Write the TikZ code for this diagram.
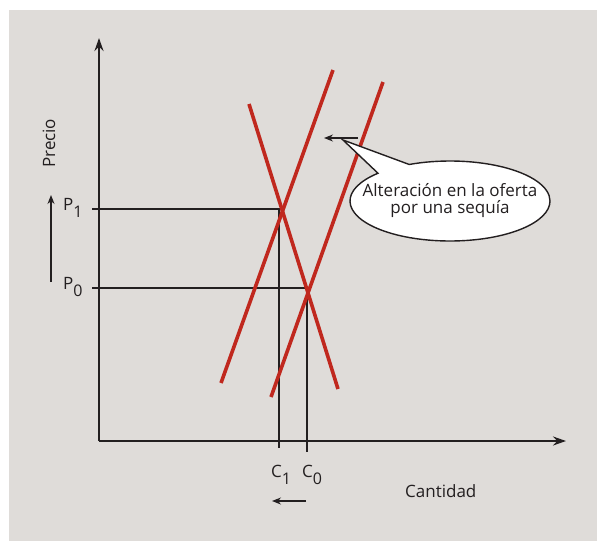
\documentclass[tikz,border=0pt]{standalone}
\usepackage{fontspec}
\setmainfont{Open Sans}
\usetikzlibrary{arrows.meta,shapes.callouts}
\definecolor{bgcol}{HTML}{DFDCD9}
\definecolor{curvered}{HTML}{C0281E}
\definecolor{axcol}{HTML}{231F20}
\tikzset{
  axis/.style={draw=axcol, line width=2.4pt, -{Stealth[length=13pt,width=9pt]}},
  guide/.style={draw=axcol, line width=2pt},
  curve/.style={draw=curvered, line width=3.6pt},
  shiftarrow/.style={draw=axcol, line width=1.3pt, -{Stealth[length=9pt,width=7pt]}},
  lbl/.style={font=\fontsize{17}{20}\selectfont, text=axcol, inner sep=0pt},
}
\newcommand{\sublbl}[2]{#1\raisebox{-7.5pt}{\fontsize{16}{18}\selectfont #2}}
\begin{document}
\begin{tikzpicture}[x=1pt,y=-1pt]
\useasboundingbox (0,0) rectangle (597,541);
\fill[bgcol] (9,10) rectangle (597,541);
% coordinates
\coordinate (O) at (99,441);
\coordinate (ytop) at (99,38);
\coordinate (xend) at (566,441);
\coordinate (p1l) at (92,209);
\coordinate (p1r) at (279,209);
\coordinate (c1b) at (279,448);
\coordinate (p0l) at (92,288);
\coordinate (p0r) at (307,288);
\coordinate (c0b) at (307,452);
\coordinate (dA) at (249,104);
\coordinate (dB) at (338,389);
\coordinate (s1A) at (221,383);
\coordinate (s1B) at (333,70);
\coordinate (s0A) at (271,397);
\coordinate (s0B) at (383,82);
\coordinate (pa1) at (51,282);
\coordinate (pa2) at (51,195);
\coordinate (ca1) at (306,501);
\coordinate (ca2) at (272,501);
\coordinate (sa1) at (358,138);
\coordinate (sa2) at (324,138);
% guides
\draw[guide] (p1l) -- (p1r) -- (c1b);
\draw[guide] (p0l) -- (p0r) -- (c0b);
% axes
\draw[axis] (O) -- (ytop);
\draw[axis] (O) -- (xend);
% curves
\draw[curve] (dA) -- (dB);
\draw[curve] (s1A) -- (s1B);
\draw[curve] (s0A) -- (s0B);
% arrows
\draw[shiftarrow] (pa1) -- (pa2);
\draw[shiftarrow] (ca1) -- (ca2);
\draw[shiftarrow] (sa1) -- (sa2);
% labels
\node[lbl, rotate=90, anchor=base west] (precio) at (55,168) {Precio};
\node[lbl, anchor=base west] (P1) at (63,210) {\sublbl{P}{1}};
\node[lbl, anchor=base west] (P0) at (63,289) {\sublbl{P}{0}};
\node[lbl, anchor=base west] (C1) at (271,477) {\sublbl{C}{1}};
\node[lbl, anchor=base west] (C0) at (302,477) {\sublbl{C}{0}};
\node[lbl, anchor=base west] (cant) at (405,497) {Cantidad};
% callout
\node[ellipse callout, draw=axcol, line width=1.4pt, fill=white,
      minimum width=200pt, minimum height=80pt, inner sep=0pt,
      callout absolute pointer={(343,140)}, callout pointer arc=22]
      (call) at (450,201) {};
\node[align=center, font=\fontsize{17}{17}\selectfont, text=axcol, inner sep=0pt]
      (calltext) at (call.center) {Alteración en la oferta\\por una sequía};
\end{tikzpicture}
\end{document}
